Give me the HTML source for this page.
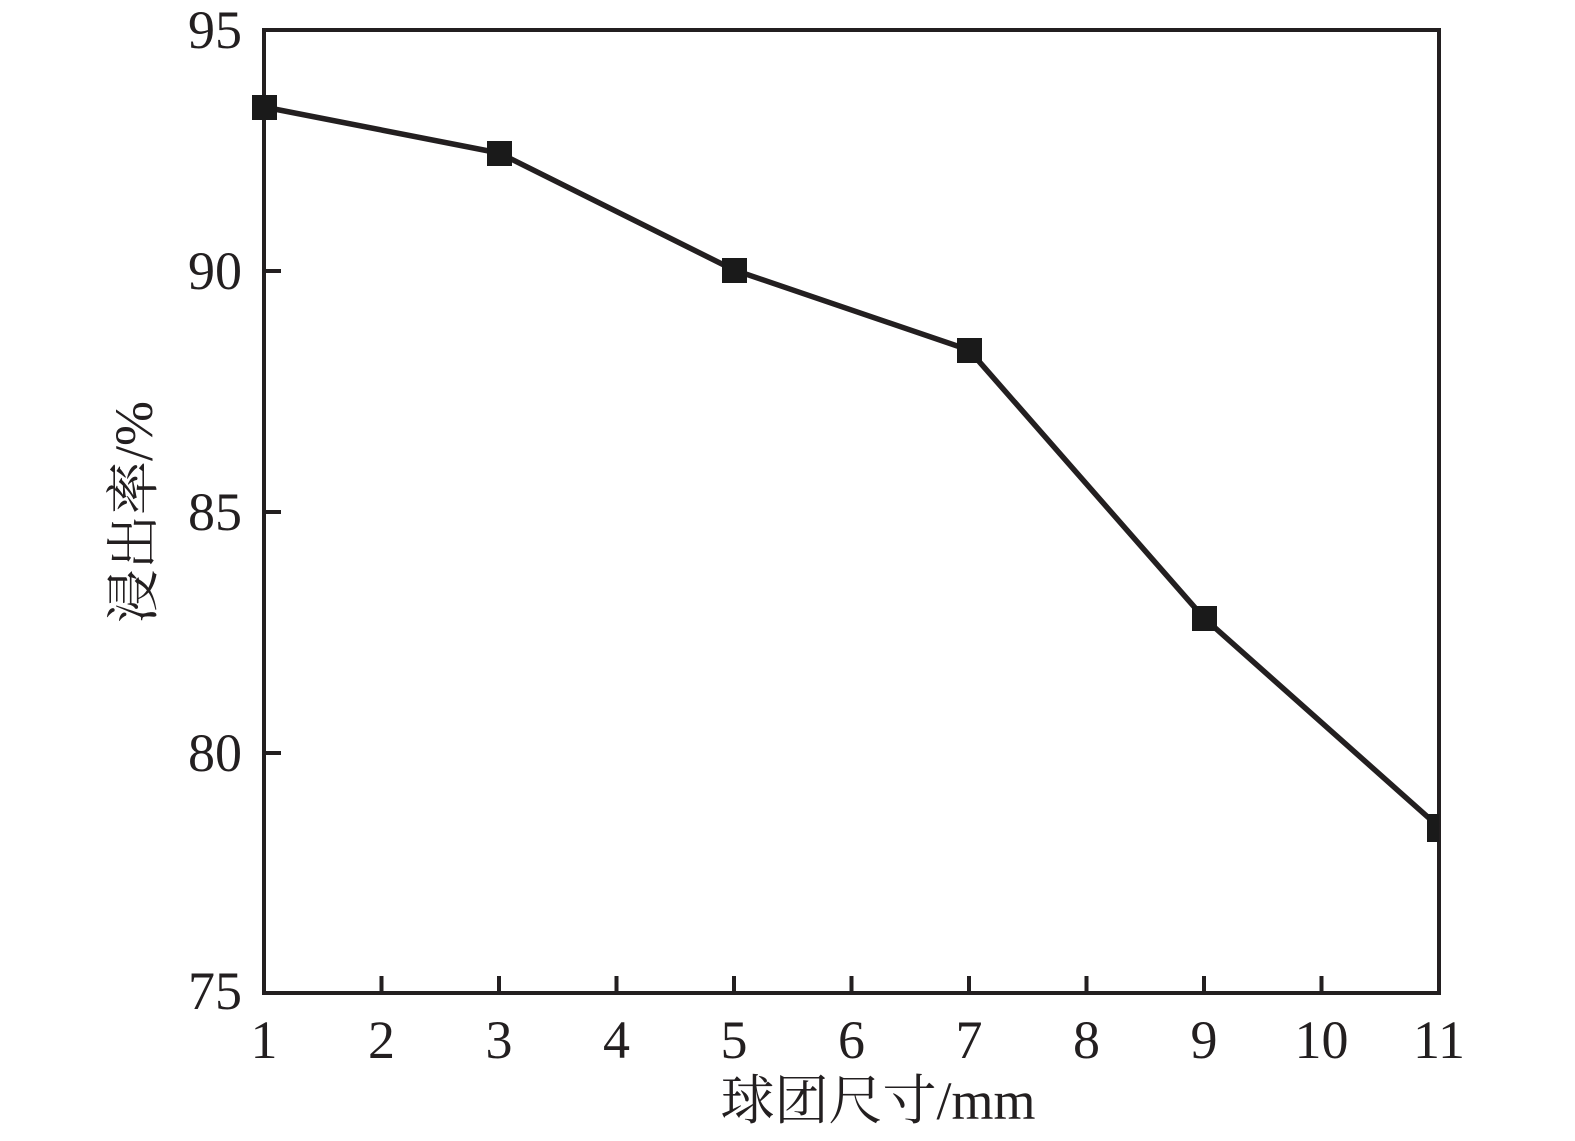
<!DOCTYPE html>
<html><head><meta charset="utf-8"><style>
html,body{margin:0;padding:0;background:#fff;}
svg{display:block;}
text{font-family:"Liberation Serif","Noto Serif CJK SC",serif;fill:#231f20;font-size:54px;}
</style></head><body>
<svg width="1575" height="1141" viewBox="0 0 1575 1141" xmlns="http://www.w3.org/2000/svg">
<g stroke="#231f20" stroke-width="4" fill="none">
<rect x="264" y="30" width="1175" height="963"/>
<path d="M381.5 993v-17M499 993v-17M616.5 993v-17M734 993v-17M851.5 993v-17M969 993v-17M1086.5 993v-17M1204 993v-17M1321.5 993v-17"/>
<path d="M264 271h17M264 512h17M264 753h17"/>
<polyline stroke-width="5.5" stroke-linejoin="round" points="264,107 499,153 734,270 969,350 1204,618 1439,827"/>
</g>
<g fill="#1a1a1a">
<rect x="252" y="95" width="25" height="25"/>
<rect x="487" y="141" width="25" height="25"/>
<rect x="722" y="258" width="25" height="25"/>
<rect x="957" y="338" width="25" height="25"/>
<rect x="1192" y="606" width="25" height="25"/>
<rect x="1427" y="814" width="12" height="28"/>
</g>
<g text-anchor="end">
<text x="242" y="48">95</text>
<text x="242" y="289">90</text>
<text x="242" y="530">85</text>
<text x="242" y="771">80</text>
<text x="242" y="1009">75</text>
</g>
<g text-anchor="middle">
<text x="264" y="1058">1</text>
<text x="381.5" y="1058">2</text>
<text x="499" y="1058">3</text>
<text x="616.5" y="1058">4</text>
<text x="734" y="1058">5</text>
<text x="851.5" y="1058">6</text>
<text x="969" y="1058">7</text>
<text x="1086.5" y="1058">8</text>
<text x="1204" y="1058">9</text>
<text x="1321.5" y="1058">10</text>
<text x="1439" y="1058">11</text>
<text x="878" y="1119" font-size="56">球团尺寸/mm</text>
<text transform="translate(152,512) rotate(-90)" font-size="56">浸出率/%</text>
</g>
</svg>
</body></html>
